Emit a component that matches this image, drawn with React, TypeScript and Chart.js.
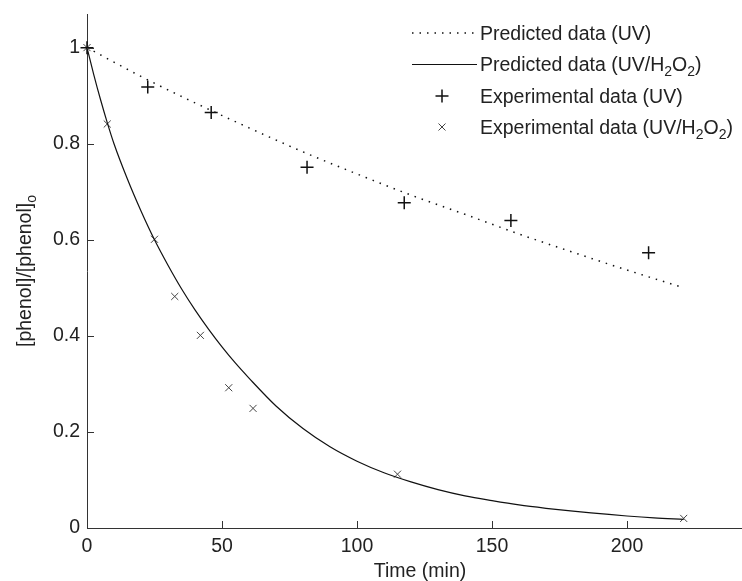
import React, { useEffect, useRef } from "react";
import { Chart, registerables } from "chart.js";

Chart.register(...registerables);

// ---- data ----
const xTicks = [0, 50, 100, 150, 200];
const xTickLabels = ["0", "50", "100", "150", "200"];
const yTicks = [0, 0.2, 0.4, 0.6, 0.8, 1];
const yTickLabels = ["0", "0.2", "0.4", "0.6", "0.8", "1"];

const uvExpTime = [0, 22.5, 46, 81.5, 117.5, 157, 208];
const uvExpValue = [1, 0.918, 0.865, 0.751, 0.677, 0.64, 0.573];

const h2o2ExpTime = [0, 7.5, 25, 32.5, 42, 52.5, 61.5, 115, 221];
const h2o2ExpValue = [1, 0.841, 0.601, 0.482, 0.401, 0.292, 0.249, 0.112, 0.02];

const uvPredTime = [0, 20, 40, 60, 80, 100, 120, 140, 160, 180, 200, 221];
const uvPredValue = [1, 0.94, 0.885, 0.833, 0.783, 0.737, 0.693, 0.653, 0.612, 0.574, 0.537, 0.5];

const h2o2PredTime = [0, 2.5, 5, 7.5, 10, 15, 20, 25, 30, 35, 40, 45, 50, 55, 60, 70, 80, 90, 100, 110, 120, 130, 140, 150, 160, 170, 180, 190, 200, 210, 221];
const h2o2PredValue = [1, 0.944, 0.892, 0.844, 0.8, 0.726, 0.66, 0.6, 0.547, 0.498, 0.454, 0.414, 0.377, 0.343, 0.312, 0.254, 0.207, 0.169, 0.139, 0.115, 0.096, 0.08, 0.067, 0.057, 0.048, 0.041, 0.035, 0.03, 0.025, 0.021, 0.018];

const legendLabels = [
  "Predicted data (UV)",
  "Predicted data (UV/H_2O_2)",
  "Experimental data (UV)",
  "Experimental data (UV/H_2O_2)",
];
const xTitle = "Time (min)";
const yTitle = "[phenol]/[phenol]_o";

// ---- styles ----
const FONT_FAMILY = "'Liberation Sans', Arial, sans-serif";
const FONT_SIZE = 19.5;
const SUB_SIZE = 14;
const TEXT_COLOR = "#222";
const AXIS_COLOR = "#333";
const LINE_COLOR = "#111";

function toPts(xs: number[], ys: number[]) {
  return xs.map((x, i) => ({ x, y: ys[i] }));
}

// "_c" renders c as subscript
function richSegments(text: string) {
  const segs: { t: string; sub: boolean }[] = [];
  let cur = "";
  for (let i = 0; i < text.length; i++) {
    if (text[i] === "_" && i + 1 < text.length) {
      if (cur) segs.push({ t: cur, sub: false });
      cur = "";
      segs.push({ t: text[i + 1], sub: true });
      i++;
    } else cur += text[i];
  }
  if (cur) segs.push({ t: cur, sub: false });
  return segs;
}

function measureRich(ctx: CanvasRenderingContext2D, text: string) {
  let w = 0;
  for (const s of richSegments(text)) {
    ctx.font = `${s.sub ? SUB_SIZE : FONT_SIZE}px ${FONT_FAMILY}`;
    w += ctx.measureText(s.t).width;
  }
  return w;
}

function drawRich(ctx: CanvasRenderingContext2D, text: string, x: number, baseline: number) {
  let cx = x;
  ctx.textBaseline = "alphabetic";
  ctx.textAlign = "left";
  for (const s of richSegments(text)) {
    ctx.font = `${s.sub ? SUB_SIZE : FONT_SIZE}px ${FONT_FAMILY}`;
    ctx.fillText(s.t, cx, baseline + (s.sub ? 5 : 0));
    cx += ctx.measureText(s.t).width;
  }
}

const decorPlugin = {
  id: "decor",
  afterDraw(chart: any) {
    const ctx: CanvasRenderingContext2D = chart.ctx;
    const xs = chart.scales.x;
    const ys = chart.scales.y;
    const area = chart.chartArea;
    ctx.save();
    // inward tick marks
    ctx.strokeStyle = AXIS_COLOR;
    ctx.lineWidth = 1;
    for (const v of xTicks) {
      const px = Math.round(xs.getPixelForValue(v)) + 0.5;
      ctx.beginPath();
      ctx.moveTo(px, area.bottom);
      ctx.lineTo(px, area.bottom - 7);
      ctx.stroke();
    }
    for (const v of yTicks) {
      const py = Math.round(ys.getPixelForValue(v)) + 0.5;
      ctx.beginPath();
      ctx.moveTo(area.left, py);
      ctx.lineTo(area.left + 7, py);
      ctx.stroke();
    }

    ctx.fillStyle = TEXT_COLOR;
    // x title
    const xw = measureRich(ctx, xTitle);
    drawRich(ctx, xTitle, 420 - xw / 2, 577);
    // y title (rotated)
    const yw = measureRich(ctx, yTitle);
    ctx.save();
    ctx.translate(31, (area.top + area.bottom) / 2);
    ctx.rotate(-Math.PI / 2);
    drawRich(ctx, yTitle, -yw / 2, 0);
    ctx.restore();

    // legend
    const rows = [33, 64, 96, 127];
    const sx0 = 412, sx1 = 477, mx = 442, tx = 480;
    ctx.strokeStyle = LINE_COLOR;
    ctx.lineWidth = 1.5;
    ctx.setLineDash([1.5, 6]);
    ctx.beginPath();
    ctx.moveTo(sx0, rows[0]);
    ctx.lineTo(sx1, rows[0]);
    ctx.stroke();
    ctx.setLineDash([]);
    ctx.lineWidth = 1.2;
    ctx.beginPath();
    ctx.moveTo(sx0, rows[1] + 0.5);
    ctx.lineTo(sx1, rows[1] + 0.5);
    ctx.stroke();
    ctx.lineWidth = 1.5;
    ctx.beginPath();
    ctx.moveTo(mx - 6.5, rows[2]);
    ctx.lineTo(mx + 6.5, rows[2]);
    ctx.moveTo(mx, rows[2] - 6.5);
    ctx.lineTo(mx, rows[2] + 6.5);
    ctx.stroke();
    ctx.strokeStyle = "#444";
    ctx.lineWidth = 1;
    const d = 3.5;
    ctx.beginPath();
    ctx.moveTo(mx - d, rows[3] - d);
    ctx.lineTo(mx + d, rows[3] + d);
    ctx.moveTo(mx - d, rows[3] + d);
    ctx.lineTo(mx + d, rows[3] - d);
    ctx.stroke();

    ctx.fillStyle = TEXT_COLOR;
    legendLabels.forEach((lab, i) => {
      drawRich(ctx, lab, tx, rows[i] + 7);
    });
    ctx.restore();
  },
};

export default function App() {
  const ref = useRef<HTMLCanvasElement | null>(null);

  useEffect(() => {
    if (!ref.current) return;
    const font = { family: FONT_FAMILY, size: FONT_SIZE };
    const chart = new Chart(ref.current, {
      type: "scatter",
      data: {
        datasets: [
          {
            label: legendLabels[0],
            type: "line",
            data: toPts(uvPredTime, uvPredValue),
            borderColor: LINE_COLOR,
            borderWidth: 1.5,
            borderDash: [1.5, 6],
            pointRadius: 0,
            fill: false,
            cubicInterpolationMode: "monotone",
            clip: false,
          } as any,
          {
            label: legendLabels[1],
            type: "line",
            data: toPts(h2o2PredTime, h2o2PredValue),
            borderColor: LINE_COLOR,
            borderWidth: 1.2,
            pointRadius: 0,
            fill: false,
            cubicInterpolationMode: "monotone",
            clip: false,
          } as any,
          {
            label: legendLabels[2],
            data: toPts(uvExpTime, uvExpValue),
            pointStyle: "cross",
            pointRadius: 6.5,
            borderColor: LINE_COLOR,
            backgroundColor: LINE_COLOR,
            pointBorderWidth: 1.5,
            clip: false,
          } as any,
          {
            label: legendLabels[3],
            data: toPts(h2o2ExpTime, h2o2ExpValue),
            pointStyle: "crossRot",
            pointRadius: 5,
            borderColor: "#444",
            backgroundColor: "#444",
            pointBorderWidth: 1,
            clip: false,
          } as any,
        ],
      },
      options: {
        responsive: false,
        animation: false,
        devicePixelRatio: 1,
        layout: { autoPadding: false, padding: { top: 14, left: 0, right: 0, bottom: 0 } },
        plugins: { legend: { display: false }, tooltip: { enabled: false } },
        scales: {
          x: {
            type: "linear",
            min: 0,
            max: 242.6,
            afterBuildTicks: (s: any) => {
              s.ticks = xTicks.map((v) => ({ value: v }));
            },
            afterFit: (s: any) => {
              s.height = 53;
              s.paddingRight = 0;
              s.paddingLeft = 0;
            },
            grid: { display: false, drawTicks: false },
            border: { display: true, color: AXIS_COLOR, width: 1 },
            ticks: {
              font,
              color: TEXT_COLOR,
              padding: 7,
              maxRotation: 0,
              autoSkip: false,
              callback: (v: any) => xTickLabels[xTicks.indexOf(Number(v))],
            },
          },
          y: {
            type: "linear",
            min: 0,
            max: 1.07,
            afterBuildTicks: (s: any) => {
              s.ticks = yTicks.map((v) => ({ value: v }));
            },
            afterFit: (s: any) => {
              s.width = 87;
              s.paddingTop = 0;
              s.paddingBottom = 0;
            },
            grid: { display: false, drawTicks: false },
            border: { display: true, color: AXIS_COLOR, width: 1 },
            ticks: {
              font,
              color: TEXT_COLOR,
              padding: 7,
              autoSkip: false,
              callback: (v: any) => yTickLabels[yTicks.indexOf(Number(v))],
            },
          },
        },
      },
      plugins: [decorPlugin],
    });
    return () => chart.destroy();
  }, []);

  return (
    <div style={{ position: "fixed", left: 0, top: 0, width: 742, height: 581, background: "#fff" }}>
      <canvas ref={ref} width={742} height={581} style={{ display: "block", width: 742, height: 581 }} />
    </div>
  );
}
